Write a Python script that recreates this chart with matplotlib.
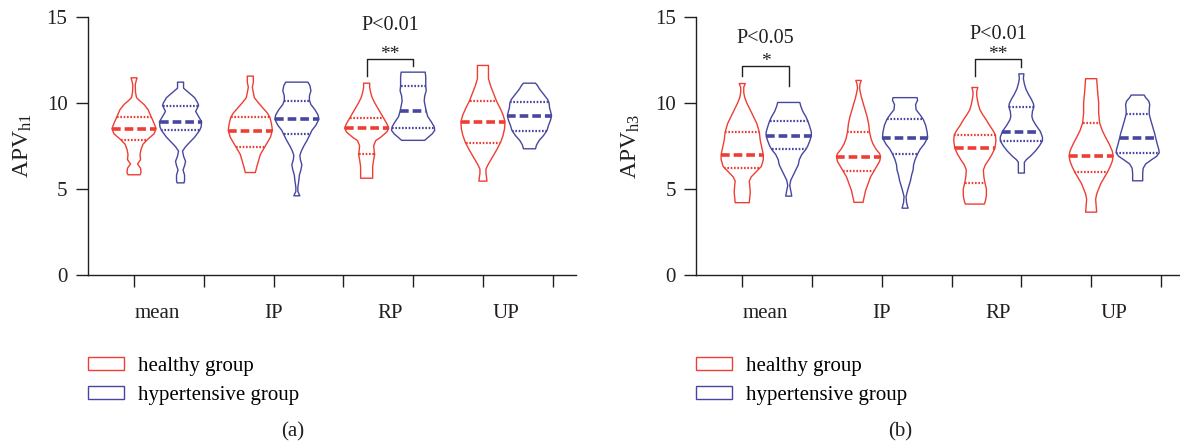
import matplotlib
matplotlib.use("Agg")
import matplotlib.pyplot as plt
from matplotlib.patches import Patch
import numpy as np

plt.rcParams['font.family'] = ['Liberation Serif', 'DejaVu Serif']
plt.rcParams['mathtext.fontset'] = 'custom'
plt.rcParams['mathtext.rm'] = 'Liberation Serif'
plt.rcParams['mathtext.it'] = 'Liberation Serif:italic'

categories = ["mean", "IP", "RP", "UP"]
groups = ["healthy group", "hypertensive group"]

# violin outlines: (value, density), density peak ~22
h1_healthy_shape = [
    [(11.45, 3), (11.25, 2), (11.05, 1.2), (10.6, 1.5), (10.3, 2.5), (10.1, 6), (9.9, 10), (9.6, 14),
     (9.2, 17), (8.8, 20), (8.5, 22), (8.2, 20), (7.9, 14), (7.6, 9), (7.3, 7), (7.0, 6), (6.7, 6.5),
     (6.45, 3.5), (6.2, 6.5), (5.95, 7), (5.82, 6)],
    [(11.55, 3), (11.2, 3), (10.9, 2), (10.6, 3), (10.3, 4), (10.0, 8), (9.7, 12.5), (9.4, 17),
     (9.15, 19.5), (8.8, 21), (8.4, 22), (8.0, 20), (7.7, 17), (7.4, 14), (7.0, 10), (6.6, 8),
     (6.3, 6.5), (5.95, 5)],
    [(11.14, 3), (10.9, 3), (10.6, 4), (10.3, 5.5), (10.0, 8), (9.6, 12), (9.3, 15), (9.1, 17),
     (8.8, 20), (8.53, 22), (8.3, 20), (8.0, 14), (7.8, 9), (7.5, 7), (7.2, 7.5), (7.0, 8), (6.7, 7),
     (6.3, 6), (5.9, 6), (5.62, 6)],
    [(12.17, 5.5), (11.8, 5.5), (11.4, 5.5), (11.0, 7.5), (10.7, 9.5), (10.4, 11.5), (10.1, 13.5),
     (9.7, 17), (9.3, 20), (8.9, 22), (8.5, 21.5), (8.1, 20), (7.7, 17.5), (7.3, 14), (7.0, 11),
     (6.7, 8), (6.4, 5), (6.15, 3), (5.9, 3), (5.7, 3.5), (5.45, 4)],
]
h1_healthy_median = [8.49, 8.39, 8.53, 8.88]
h1_healthy_q3 = [9.17, 9.17, 9.13, 10.12]
h1_healthy_q1 = [7.83, 7.45, 7.05, 7.66]

h1_hyper_shape = [
    [(11.2, 3), (10.85, 3), (10.6, 8), (10.3, 14), (10.0, 17), (9.85, 18), (9.5, 15), (9.2, 18),
     (8.9, 21), (8.6, 20.5), (8.4, 19), (8.0, 14), (7.7, 9), (7.45, 5), (7.2, 2), (6.9, 3), (6.6, 5),
     (6.35, 4), (6.1, 2.5), (5.8, 4), (5.5, 4), (5.35, 3.5)],
    [(11.2, 11), (11.0, 13), (10.7, 14), (10.4, 12.5), (10.15, 12.5), (9.9, 14), (9.6, 18), (9.3, 21),
     (9.05, 22), (8.7, 19), (8.4, 15), (8.15, 13), (7.8, 10), (7.5, 7), (7.2, 4.5), (6.95, 3),
     (6.7, 3.5), (6.4, 5), (6.1, 4), (5.8, 2.5), (5.5, 2), (5.1, 1), (4.85, 1), (4.6, 3)],
    [(11.78, 12), (11.5, 12.5), (11.0, 12.5), (10.7, 13), (10.4, 11.5), (10.1, 11), (9.8, 12),
     (9.53, 13), (9.2, 14.5), (8.9, 18), (8.6, 21), (8.4, 21.5), (8.2, 19), (8.0, 15), (7.82, 11.5)],
    [(11.14, 6), (11.0, 8), (10.8, 10), (10.5, 14), (10.2, 18), (10.0, 19.5), (9.7, 20), (9.5, 21),
     (9.26, 22), (9.0, 21), (8.7, 19), (8.4, 17.5), (8.1, 14), (7.8, 9.5), (7.55, 7), (7.33, 6)],
]
h1_hyper_median = [8.91, 9.05, 9.53, 9.26]
h1_hyper_q3 = [9.83, 10.13, 11.0, 10.02]
h1_hyper_q1 = [8.41, 8.16, 8.51, 8.37]

h3_healthy_shape = [
    [(11.12, 3), (10.9, 1.5), (10.6, 1.5), (10.3, 2.5), (10.0, 4.5), (9.7, 7), (9.4, 9.5), (9.1, 12),
     (8.8, 14.5), (8.3, 17), (7.8, 18), (7.4, 19.5), (7.0, 21), (6.7, 21), (6.3, 19), (6.0, 14),
     (5.7, 9), (5.45, 7), (5.2, 7.5), (4.8, 8), (4.5, 7.5), (4.2, 7)],
    [(11.3, 2.7), (11.1, 1.5), (10.85, 1), (10.6, 1.8), (10.3, 3), (10.0, 4.5), (9.6, 6.5), (9.2, 8.5),
     (8.8, 10), (8.3, 11), (7.9, 12.5), (7.6, 14.5), (7.3, 17.5), (7.05, 21), (6.88, 22), (6.6, 21),
     (6.3, 18), (6.05, 15.5), (5.7, 12), (5.3, 9.5), (4.9, 7), (4.5, 5.5), (4.22, 4.5)],
    [(10.89, 3), (10.7, 2), (10.45, 1.8), (10.2, 2.5), (9.9, 3.5), (9.6, 5), (9.3, 8), (9.0, 11.5),
     (8.7, 14.5), (8.4, 18), (8.14, 20.5), (7.8, 21), (7.36, 20), (7.0, 17), (6.7, 14), (6.4, 10.5),
     (6.1, 8.5), (5.7, 9), (5.37, 10), (5.0, 11.5), (4.6, 11.5), (4.3, 10.5), (4.12, 9.5)],
    [(11.4, 5.5), (11.0, 6), (10.6, 6.5), (10.0, 7.5), (9.4, 7.5), (8.82, 8.5), (8.4, 11), (8.04, 14),
     (7.6, 18), (7.2, 21), (6.92, 22), (6.6, 21), (6.3, 19), (6.0, 16.5), (5.6, 12.5), (5.3, 9.5),
     (5.0, 7.5), (4.7, 5.5), (4.4, 4.5), (4.0, 5), (3.65, 5.5)],
]
h3_healthy_median = [6.98, 6.88, 7.36, 6.92]
h3_healthy_q3 = [8.31, 8.31, 8.14, 8.82]
h3_healthy_q1 = [6.24, 6.06, 5.37, 6.01]

h3_hyper_shape = [
    [(10.02, 11), (9.8, 12), (9.5, 14), (9.2, 17), (8.95, 19), (8.6, 21), (8.3, 22.5), (8.06, 22.5),
     (7.8, 21), (7.5, 19), (7.29, 17), (7.0, 13), (6.7, 10.5), (6.4, 9.5), (6.1, 7), (5.8, 4.5),
     (5.5, 2), (5.2, 1), (4.9, 2), (4.58, 3)],
    [(10.3, 12), (10.15, 12.5), (9.9, 10.5), (9.6, 11), (9.3, 15), (9.05, 18), (8.7, 20.5), (8.3, 22),
     (7.97, 22.5), (7.6, 19), (7.3, 15), (7.03, 12.5), (6.7, 10), (6.4, 8.5), (6.1, 8), (5.8, 6.5),
     (5.5, 5.5), (5.2, 4), (4.9, 2.5), (4.55, 1), (4.2, 1.5), (3.88, 3)],
    [(11.68, 2.5), (11.4, 2), (11.1, 3), (10.8, 4.5), (10.5, 7), (10.2, 10), (9.95, 12), (9.77, 12.5),
     (9.5, 11), (9.2, 10.5), (9.0, 11.5), (8.7, 14.5), (8.33, 19), (8.0, 21), (7.79, 21), (7.5, 18),
     (7.2, 14), (6.9, 9), (6.7, 5), (6.55, 3), (6.2, 3), (5.92, 3)],
    [(10.45, 6.5), (10.3, 8), (10.1, 11), (9.9, 12), (9.6, 11.5), (9.34, 11.5), (9.0, 13), (8.6, 15),
     (8.2, 17), (7.95, 18), (7.6, 19.5), (7.3, 21), (7.1, 21.5), (6.9, 19), (6.7, 14), (6.45, 8),
     (6.2, 5.5), (5.9, 5), (5.47, 5)],
]
h3_hyper_median = [8.06, 7.97, 8.33, 7.95]
h3_hyper_q3 = [8.95, 9.05, 9.77, 9.34]
h3_hyper_q1 = [7.29, 7.03, 7.79, 7.09]

# significance: (category, p text, stars, bracket top, left leg end, right leg end, stars y, p text y)
h1_sig = [(2, "P<0.01", "**", 12.54, 11.57, 12.11, 12.55, 14.2)]
h3_sig = [(0, "P<0.05", "*", 12.11, 11.57, 10.95, 12.13, 13.47),
          (2, "P<0.01", "**", 12.54, 11.53, 12.07, 12.52, 13.72)]

red = '#EE3E33'
blue = '#4747A0'
ink = '#231F20'
half = 0.19


def draw_violin(ax, x0, shape, med, q1, q3, color):
    lev = np.array([p[0] for p in shape])
    den = np.array([p[1] for p in shape]) / 22.0 * half
    xs = np.concatenate([x0 + den, (x0 - den)[::-1]])
    ys = np.concatenate([lev, lev[::-1]])
    ax.fill(xs, ys, facecolor='none', edgecolor=color, lw=1.0, joinstyle='round')
    w = np.interp(med, lev[::-1], den[::-1])
    ax.plot([x0 - w, x0 + w], [med, med], color=color, lw=2.6, dashes=(2.4, 1.1),
            solid_capstyle='butt', dash_capstyle='butt')
    for q in (q1, q3):
        w = np.interp(q, lev[::-1], den[::-1])
        ax.plot([x0 - w, x0 + w], [q, q], color=color, lw=1.6, dashes=(0.75, 0.75),
                dash_capstyle='butt')


def panel(ax, panels, sig, ylab, xmax):
    (hs, hm, hq3, hq1), (ps, pm, pq3, pq1) = panels
    for i in range(len(categories)):
        draw_violin(ax, i - 0.2, hs[i], hm[i], hq1[i], hq3[i], red)
        draw_violin(ax, i + 0.2, ps[i], pm[i], pq1[i], pq3[i], blue)
    for i, ptxt, stars, top, yl, yr, ys, yt in sig:
        ax.plot([i - 0.2, i - 0.2, i + 0.2, i + 0.2], [yl, top, top, yr], color=ink, lw=1.0)
        ax.text(i, ys, stars, ha='center', va='baseline', fontsize=14, color=ink)
        ax.text(i, yt, ptxt, ha='center', va='baseline', fontsize=14.5, color=ink)

    ax.set_xlim(-0.6, xmax)
    ax.set_ylim(0, 15)
    ax.set_yticks([0, 5, 10, 15])
    ax.set_xticks(-0.2 + 0.6 * np.arange(7))
    ax.set_xticklabels([])
    for i, c in enumerate(categories):
        ax.text(i, -0.167, c, transform=ax.get_xaxis_transform(), ha='center', va='baseline',
                fontsize=15, color=ink)
    for s in ('top', 'right'):
        ax.spines[s].set_visible(False)
    for s in ('left', 'bottom'):
        ax.spines[s].set_linewidth(1.0)
        ax.spines[s].set_color(ink)
    ax.tick_params(direction='out', length=8.4, width=1.0, color=ink, labelcolor=ink,
                   labelsize=15, pad=6)
    ax.text(-0.133, 0.5, ylab, transform=ax.transAxes, rotation=90, ha='center', va='center',
            fontsize=17, color=ink)

    handles = [Patch(facecolor='white', edgecolor=red, lw=1.0, label=groups[0]),
               Patch(facecolor='white', edgecolor=blue, lw=1.0, label=groups[1])]
    ax.legend(handles=handles, loc='upper left', bbox_to_anchor=(0, -0.318), frameon=False,
              fontsize=15, handlelength=1.75, handleheight=0.56, handletextpad=0.65,
              labelspacing=0.47, borderpad=0, borderaxespad=0)


fig = plt.figure(figsize=(11.8, 4.44), dpi=100)
ax1 = fig.add_axes([87.5 / 1180, 169 / 444, 488.5 / 1180, 258.3 / 444])
ax2 = fig.add_axes([695.7 / 1180, 169 / 444, 484.3 / 1180, 258.3 / 444])

panel(ax1, [(h1_healthy_shape, h1_healthy_median, h1_healthy_q3, h1_healthy_q1),
            (h1_hyper_shape, h1_hyper_median, h1_hyper_q3, h1_hyper_q1)],
      h1_sig, r'APV$_{\mathrm{h1}}$', 3.6)
panel(ax2, [(h3_healthy_shape, h3_healthy_median, h3_healthy_q3, h3_healthy_q1),
            (h3_hyper_shape, h3_hyper_median, h3_hyper_q3, h3_hyper_q1)],
      h3_sig, r'APV$_{\mathrm{h3}}$', 3.564)

fig.text(293 / 1180, 12 / 444, '(a)', ha='center', va='center', fontsize=15, color=ink)
fig.text(900 / 1180, 12 / 444, '(b)', ha='center', va='center', fontsize=15, color=ink)

fig.savefig('out.png', dpi=100)
